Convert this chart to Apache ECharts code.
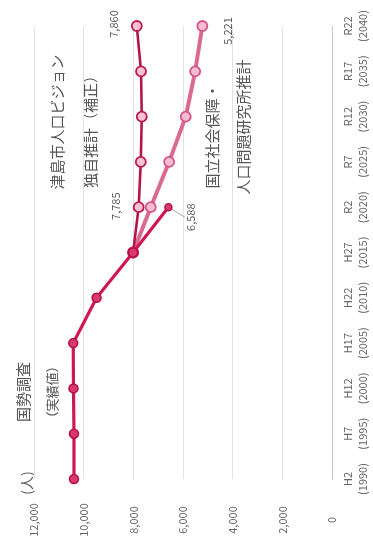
<!DOCTYPE html>
<html>
<head>
<meta charset="utf-8">
<script src="https://cdn.jsdelivr.net/npm/echarts@6/dist/echarts.min.js"></script>
<style>
html,body{margin:0;padding:0;background:#fff;}
#c{width:373px;height:550px;}
</style>
</head>
<body>
<div id="c"></div>
<script>
// categories (bottom -> top in the rotated picture)
const eraLabels  = ['H2','H7','H12','H17','H22','H27','R2','R7','R12','R17','R22'];
const yearLabels = ['(1990)','(1995)','(2000)','(2005)','(2010)','(2015)','(2020)','(2025)','(2030)','(2035)','(2040)'];
// series values (人)
const actual = [10390, 10390, 10410, 10420, 9480, 8010, 6588, null, null, null, null];
const vision = [null, null, null, null, null, 8010, 7785, 7700, 7660, 7690, 7860];
const ipss   = [null, null, null, null, null, 8010, 7300, 6560, 5890, 5510, 5221];
// value axis ticks
const valueMin = 0, valueMax = 12000, valueStep = 2000;

const categories = eraLabels.map((e, i) => e + '\n' + yearLabels[i]);
const FONT = '"Noto Sans CJK JP", "Noto Sans", sans-serif';
const TXT = '#666';

// which points carry a value label, and where the label sits relative to the point
const labelSpots = {
  'vision-6': [-23, -1], 'vision-10': [-23, -2],
  'actual-6': [22, 10],
  'ipss-10': [25, 5]
};

function labelled(name, arr) {
  return arr.map((v, i) => {
    if (v == null) return null;
    if (labelSpots[name + '-' + i]) {
      return { value: v, label: { show: true } };
    }
    return v;
  });
}
function makeLayout(name) {
  return function (p) {
    const off = labelSpots[name + '-' + p.dataIndex];
    if (!off) return {};
    const cx = p.rect.x + p.rect.width / 2;
    const cy = p.rect.y + p.rect.height / 2;
    return { x: cx + off[0], y: cy + off[1], align: 'center', verticalAlign: 'middle' };
  };
}
const labelBase = {
  show: false, rotate: 90, fontSize: 11, color: '#555', fontFamily: FONT,
  formatter: p => echarts.format.addCommas(p.value)
};

const chart = echarts.init(document.getElementById('c'), null, { renderer: 'canvas' });
chart.setOption({
  animation: false,
  backgroundColor: '#fff',
  grid: { left: 34, right: 41, top: 26, bottom: 71, containLabel: false },
  xAxis: {
    type: 'value', inverse: true, position: 'bottom',
    min: valueMin, max: valueMax, interval: valueStep,
    axisLine: { show: false }, axisTick: { show: false },
    splitLine: { show: true, lineStyle: { color: '#e2e2e2', width: 1 } },
    axisLabel: {
      rotate: 90, align: 'center', verticalAlign: 'middle', margin: 41,
      fontSize: 11, color: TXT, fontFamily: FONT,
      formatter: v => echarts.format.addCommas(v)
    }
  },
  yAxis: {
    type: 'category', position: 'right', boundaryGap: false, data: categories,
    axisLine: { show: true, lineStyle: { color: '#c8c8c8', width: 1 } },
    axisTick: { show: false },
    splitLine: { show: false },
    axisLabel: { rotate: 90, margin: 8, fontSize: 11, lineHeight: 15, color: TXT, fontFamily: FONT, interval: 0 }
  },
  series: [
    {
      name: '国立社会保障・人口問題研究所推計', type: 'line', data: labelled('ipss', ipss),
      z: 2, symbol: 'circle', symbolSize: 10, showAllSymbol: true,
      lineStyle: { color: '#db6a93', width: 4 },
      itemStyle: { color: '#f7bcd0', borderColor: '#d4548a', borderWidth: 1.8 },
      label: labelBase, labelLayout: makeLayout('ipss')
    },
    {
      name: '津島市人口ビジョン独自推計（補正）', type: 'line', data: labelled('vision', vision),
      z: 3, symbol: 'circle', symbolSize: 10, showAllSymbol: true,
      lineStyle: { color: '#b3164d', width: 2.6 },
      itemStyle: { color: '#f9c2d4', borderColor: '#bb1b52', borderWidth: 1.8 },
      label: labelBase, labelLayout: makeLayout('vision')
    },
    {
      name: '国勢調査（実績値）', type: 'line',
      data: labelled('actual', actual).map((d, i) => {
        if (i === 6) return { value: actual[i], symbolSize: 7, label: { show: true } };
        return d;
      }),
      z: 4, symbol: 'circle', symbolSize: 9, showAllSymbol: true,
      lineStyle: { color: '#cf1753', width: 3.2 },
      itemStyle: { color: '#d93a6c', borderColor: '#b3124a', borderWidth: 1.5 },
      label: labelBase, labelLayout: makeLayout('actual'),
      labelLine: { show: true, lineStyle: { color: '#aaa', width: 1 } }
    }
  ],
  graphic: [
    { type: 'text', x: 27, y: 483, rotation: Math.PI / 2,
      style: { text: '(人)', font: '14px ' + FONT, fill: '#555', align: 'center', verticalAlign: 'middle' } },
    { type: 'text', x: 23, y: 392, rotation: Math.PI / 2,
      style: { text: '国勢調査', font: '15px ' + FONT, fill: '#555', align: 'center', verticalAlign: 'middle' } },
    { type: 'text', x: 52, y: 392, rotation: Math.PI / 2,
      style: { text: '（実績値）', font: '13px ' + FONT, fill: '#555', align: 'center', verticalAlign: 'middle' } },
    { type: 'text', x: 57, y: 122, rotation: Math.PI / 2,
      style: { text: '津島市人口ビジョン', font: '15px ' + FONT, fill: '#555', align: 'center', verticalAlign: 'middle' } },
    { type: 'text', x: 90, y: 128, rotation: Math.PI / 2,
      style: { text: '独自推計（補正）', font: '15px ' + FONT, fill: '#555', align: 'center', verticalAlign: 'middle' } },
    { type: 'text', x: 212, y: 136, rotation: Math.PI / 2,
      style: { text: '国立社会保障・', font: '15px ' + FONT, fill: '#555', align: 'center', verticalAlign: 'middle' } },
    { type: 'text', x: 243, y: 127, rotation: Math.PI / 2,
      style: { text: '人口問題研究所推計', font: '15px ' + FONT, fill: '#555', align: 'center', verticalAlign: 'middle' } }
  ]
});
</script>
</body>
</html>
